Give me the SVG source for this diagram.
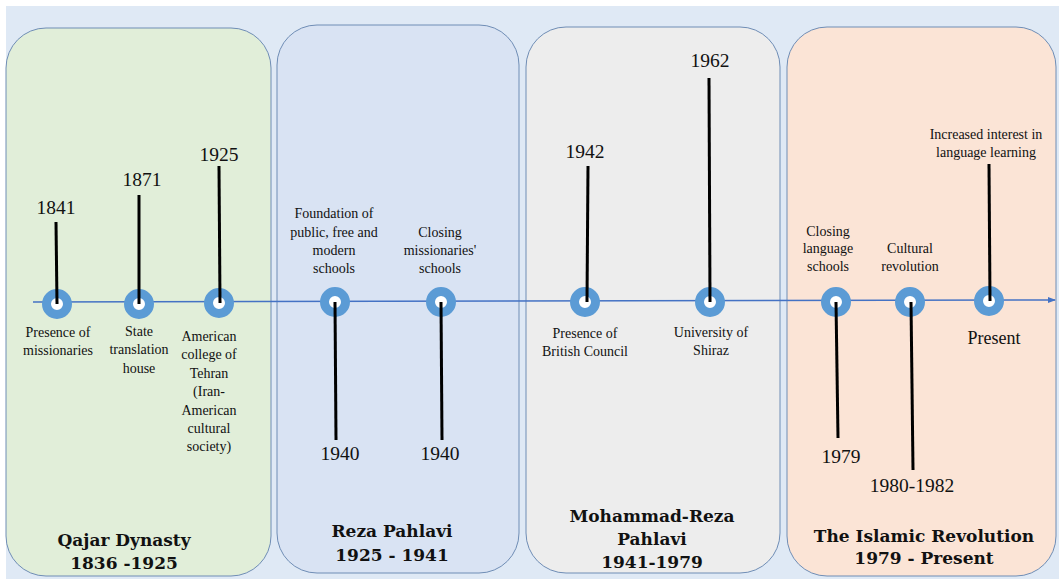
<svg xmlns="http://www.w3.org/2000/svg" width="1059" height="583" viewBox="0 0 1059 583">
<defs>
<style>
.panel{stroke:#6f8db5;stroke-width:1}
.sm{font-family:'Liberation Serif','Times New Roman',serif;font-size:14px;fill:#111;text-anchor:middle}
.yr{font-family:'Liberation Serif','Times New Roman',serif;font-size:19.5px;fill:#111;text-anchor:middle}
.ti{font-family:'DejaVu Serif','Liberation Serif',serif;font-size:17px;font-weight:bold;fill:#111;text-anchor:middle}
.stem{stroke:#000;stroke-width:3}
.ring{fill:#ffffff;stroke:#5b9bd5;stroke-width:9}
</style>
<marker id="arr" markerWidth="8" markerHeight="8" refX="7" refY="4" orient="auto" markerUnits="userSpaceOnUse">
<path d="M0,1 L8,4 L0,7 Z" fill="#4472c4"/>
</marker>
</defs>
<rect x="0" y="0" width="1059" height="583" fill="#ffffff"/>
<rect x="6" y="6" width="1053" height="573" fill="#dfe9f5"/>

<g id="panel-qajar">
<rect class="panel" x="6" y="28" width="265" height="548" rx="40" fill="#e1eed9"/>
<text class="ti" x="124" y="546">Qajar Dynasty</text>
<text class="ti" x="124" y="569">1836 -1925</text>
</g>
<g id="panel-reza">
<rect class="panel" x="277" y="25" width="242" height="548" rx="40" fill="#d9e3f3"/>
<text class="ti" x="392" y="537">Reza Pahlavi</text>
<text class="ti" x="392" y="561">1925 - 1941</text>
</g>
<g id="panel-mohammad">
<rect class="panel" x="526" y="27" width="254" height="546" rx="40" fill="#ededed"/>
<text class="ti" x="652" y="522">Mohammad-Reza</text>
<text class="ti" x="652" y="545">Pahlavi</text>
<text class="ti" x="652" y="568">1941-1979</text>
</g>
<g id="panel-islamic">
<rect class="panel" x="787" y="27" width="269" height="549" rx="40" fill="#fbe4d6"/>
<text class="ti" x="924" y="542">The Islamic Revolution</text>
<text class="ti" x="924" y="564">1979 - Present</text>
</g>

<g id="connectors">
<line x1="33" y1="302" x2="1055" y2="300" stroke="#4472c4" stroke-width="1.5" marker-end="url(#arr)"/>
</g>

<g id="e1841">
<circle class="ring" cx="57" cy="304" r="10.5"/>
<line class="stem" x1="56" y1="222" x2="57" y2="304"/>
<text class="yr" x="56" y="214">1841</text>
<text class="sm" x="58" y="337">Presence of</text>
<text class="sm" x="58" y="355">missionaries</text>
</g>
<g id="e1871">
<circle class="ring" cx="139" cy="304" r="10.5"/>
<line class="stem" x1="139" y1="195" x2="139" y2="304"/>
<text class="yr" x="142" y="186">1871</text>
<text class="sm" x="139" y="336">State</text>
<text class="sm" x="139" y="354">translation</text>
<text class="sm" x="139" y="373">house</text>
</g>
<g id="e1925">
<circle class="ring" cx="219" cy="303" r="10.5"/>
<line class="stem" x1="219" y1="166" x2="220" y2="303"/>
<text class="yr" x="219" y="161">1925</text>
<text class="sm" x="209" y="341">American</text>
<text class="sm" x="209" y="359">college of</text>
<text class="sm" x="209" y="378">Tehran</text>
<text class="sm" x="209" y="396">(Iran-</text>
<text class="sm" x="209" y="415">American</text>
<text class="sm" x="209" y="433">cultural</text>
<text class="sm" x="209" y="451">society)</text>
</g>
<g id="e1940a">
<circle class="ring" cx="335" cy="302" r="10.5"/>
<line class="stem" x1="335" y1="302" x2="336" y2="440"/>
<text class="yr" x="340" y="460">1940</text>
<text class="sm" x="334" y="218">Foundation of</text>
<text class="sm" x="334" y="237">public, free and</text>
<text class="sm" x="334" y="255">modern</text>
<text class="sm" x="334" y="273">schools</text>
</g>
<g id="e1940b">
<circle class="ring" cx="441" cy="302" r="10.5"/>
<line class="stem" x1="441" y1="302" x2="442" y2="440"/>
<text class="yr" x="440" y="460">1940</text>
<text class="sm" x="440" y="237">Closing</text>
<text class="sm" x="440" y="255">missionaries'</text>
<text class="sm" x="440" y="273">schools</text>
</g>
<g id="e1942">
<circle class="ring" cx="585" cy="302" r="10.5"/>
<line class="stem" x1="588" y1="166" x2="587" y2="302"/>
<text class="yr" x="585" y="158">1942</text>
<text class="sm" x="585" y="338">Presence of</text>
<text class="sm" x="585" y="356">British Council</text>
</g>
<g id="e1962">
<circle class="ring" cx="710" cy="302" r="10.5"/>
<line class="stem" x1="709" y1="78" x2="710" y2="302"/>
<text class="yr" x="710" y="67">1962</text>
<text class="sm" x="711" y="337">University of</text>
<text class="sm" x="711" y="355">Shiraz</text>
</g>
<g id="e1979">
<circle class="ring" cx="836" cy="302" r="10.5"/>
<line class="stem" x1="836" y1="302" x2="838" y2="438"/>
<text class="yr" x="841" y="463">1979</text>
<text class="sm" x="828" y="236">Closing</text>
<text class="sm" x="828" y="253">language</text>
<text class="sm" x="828" y="271">schools</text>
</g>
<g id="e1980">
<circle class="ring" cx="910" cy="302" r="10.5"/>
<line class="stem" x1="911" y1="302" x2="913" y2="470"/>
<text class="yr" x="912" y="492">1980-1982</text>
<text class="sm" x="910" y="253">Cultural</text>
<text class="sm" x="910" y="271">revolution</text>
</g>
<g id="epresent">
<circle class="ring" cx="989" cy="301" r="10.5"/>
<line class="stem" x1="989" y1="164" x2="990" y2="301"/>
<text class="sm" x="986" y="139">Increased interest in</text>
<text class="sm" x="986" y="157">language learning</text>
<text class="yr" x="994" y="344" style="font-size:18px">Present</text>
</g>
</svg>
